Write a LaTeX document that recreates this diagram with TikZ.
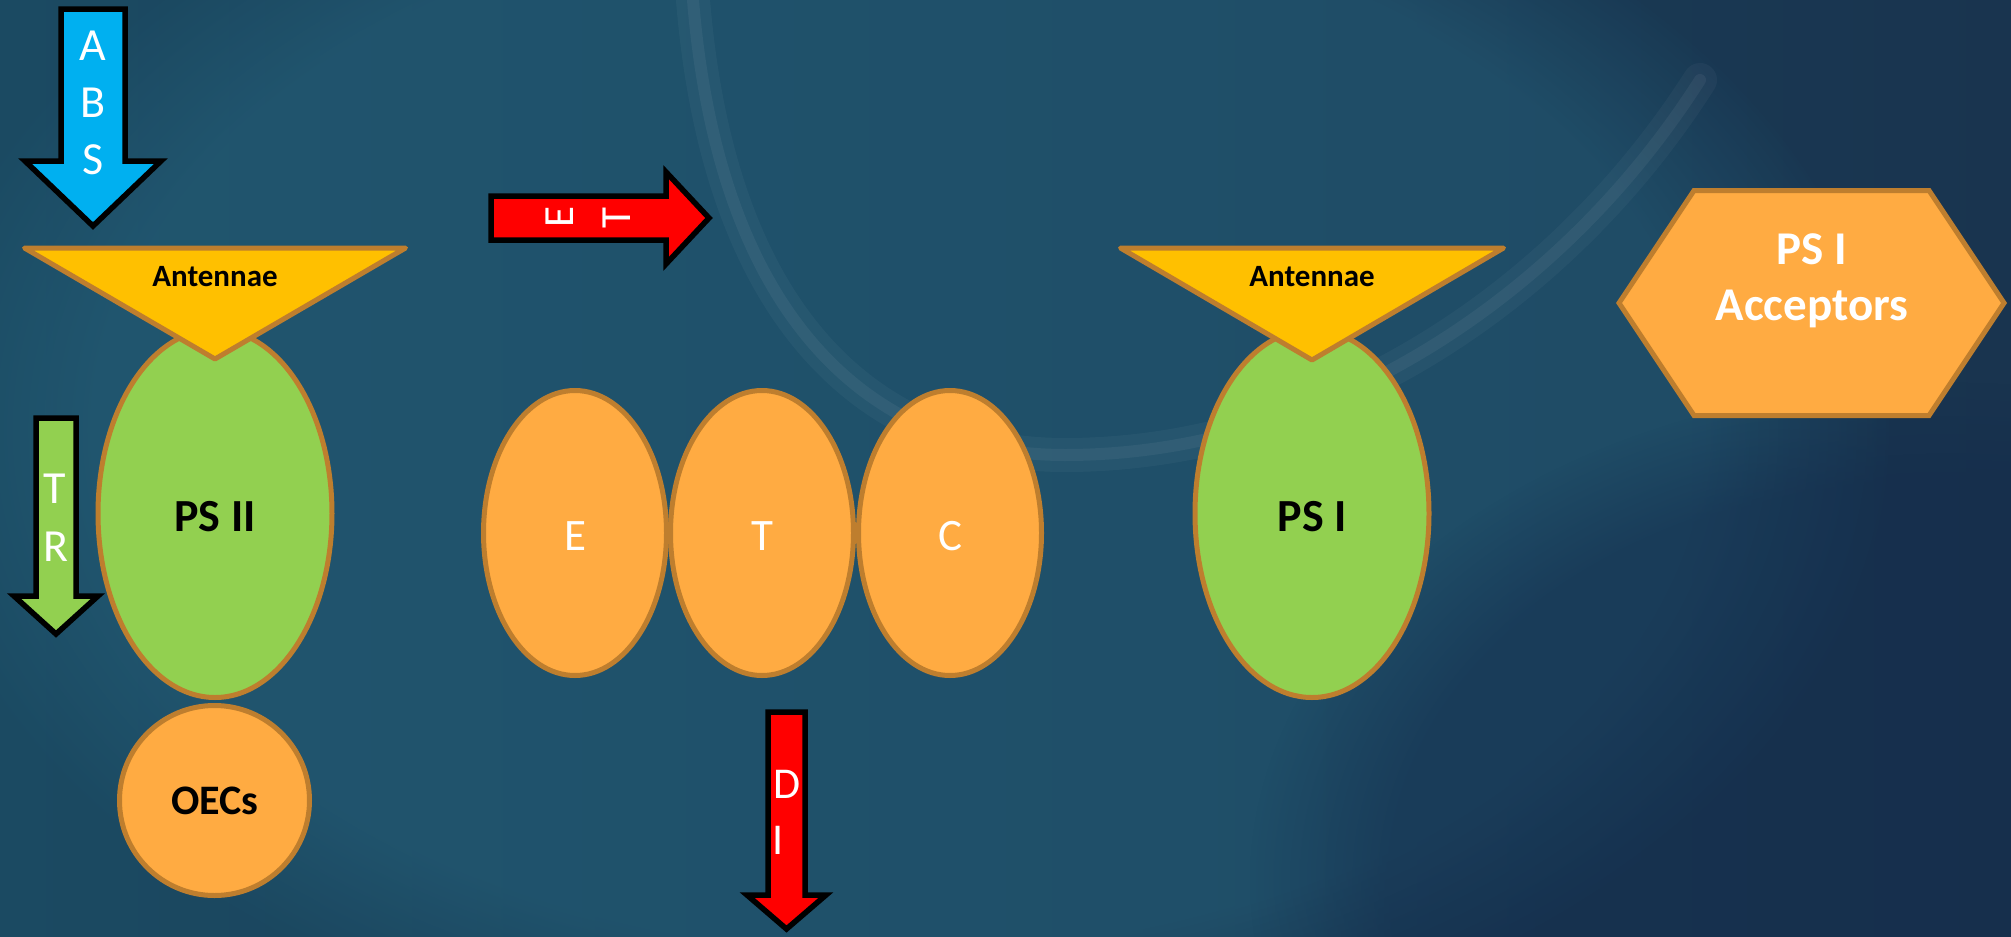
\documentclass[tikz,border=0pt]{standalone}
\usepackage{fontspec}
\setmainfont{Carlito}
\usetikzlibrary{shapes.geometric,fadings}
\definecolor{bgL}{HTML}{1B4A62}
\definecolor{bgM}{HTML}{1F566F}
\definecolor{bgR}{HTML}{19344F}
\definecolor{glowc}{HTML}{27657F}
\definecolor{darkc}{HTML}{13294A}
\definecolor{absblue}{HTML}{00B0F0}
\definecolor{antY}{HTML}{FFC000}
\definecolor{brownLine}{HTML}{BE7E2E}
\definecolor{grn}{HTML}{92D050}
\definecolor{org}{HTML}{FFAB42}
\definecolor{redA}{HTML}{FF0000}
\begin{document}
\begin{tikzpicture}[x=1pt,y=-1pt,
  outl/.style={draw=brownLine, line width=5pt, line join=round},
  blockarr/.style={draw=black, line width=5.5pt, line join=miter, miter limit=10},
  wletter/.style={text=white, inner sep=0pt, text depth=0pt, font=\fontsize{46}{46}\selectfont},
  blabel/.style={text=black, inner sep=0pt, text depth=0pt, font=\bfseries\fontsize{46}{46}\selectfont},
  oval/.style={outl, ellipse, inner sep=0pt, outer sep=0pt},
  glowarc/.style={white, line cap=round}]
% background
\useasboundingbox (0,0) rectangle (2011,937);
\shade[left color=bgL, middle color=bgM, right color=bgR] (0,0) rectangle (2011,937);
\fill[glowc, opacity=0.45, path fading=circle with fuzzy edge 20 percent] (900,430) ellipse (1000 and 650);
\fill[darkc, opacity=0.45, path fading=circle with fuzzy edge 20 percent] (1950,880) ellipse (700 and 500);
\draw[glowarc, opacity=0.035, line width=34pt] (693,0) .. controls (720,330) and (880,455) .. (1065,455) .. controls (1320,455) and (1560,300) .. (1700,80);
\draw[glowarc, opacity=0.05, line width=12pt] (693,0) .. controls (720,330) and (880,455) .. (1065,455) .. controls (1320,455) and (1560,300) .. (1700,80);

% ABS arrow
\path[blockarr, fill=absblue] (61,9) -- (125,9) -- (125,161) -- (161,161) -- (93,226) -- (25,161) -- (61,161) -- cycle;
\node[wletter] (absA) at (93,46) {A};
\node[wletter] (absB) at (93,103) {B};
\node[wletter] (absS) at (93,160) {S};

% PS II and antennae
\node[oval, fill=grn, minimum width=234pt, minimum height=368pt] (ps2) at (215,513.5) {};
\node[blabel] (ps2t) at (215,516) {PS II};
\path[outl, fill=antY] (24.5,248) -- (405.5,248) -- (215,359) -- cycle;
\node[blabel, font=\bfseries\fontsize{31}{31}\selectfont] (ant1) at (215,276) {Antennae};
\node[outl, circle, fill=org, inner sep=0pt, minimum size=190pt] (oec) at (214.5,800.5) {};
\node[blabel, font=\bfseries\fontsize{42}{42}\selectfont] (oect) at (215,801) {OECs};

% TR arrow
\path[blockarr, fill=grn] (36,418) -- (76,418) -- (76,596) -- (98,596) -- (56,634) -- (14,596) -- (36,596) -- cycle;
\node[wletter] (trT) at (55,489) {T};
\node[wletter] (trR) at (56,547) {R};

% ET arrow
\path[blockarr, fill=redA] (491,196) -- (666,196) -- (666,172) -- (709,218) -- (666,264) -- (666,240) -- (491,240) -- cycle;
\node[wletter, font=\fontsize{43}{43}\selectfont, rotate=90] (etE) at (560,217) {E};
\node[wletter, font=\fontsize{43}{43}\selectfont, rotate=90] (etT) at (617,218) {T};

% E T C
\node[oval, fill=org, minimum width=183pt, minimum height=285pt] (ovE) at (575,533) {};
\node[oval, fill=org, minimum width=183pt, minimum height=285pt] (ovT) at (762,533) {};
\node[oval, fill=org, minimum width=183pt, minimum height=285pt] (ovC) at (950,533) {};
\node[wletter, font=\fontsize{45}{45}\selectfont] (lE) at (575,536) {E};
\node[wletter, font=\fontsize{45}{45}\selectfont] (lT) at (762,536) {T};
\node[wletter, font=\fontsize{45}{45}\selectfont] (lC) at (950,536) {C};

% DI arrow
\path[blockarr, fill=redA] (768,712) -- (805,712) -- (805,895) -- (826,895) -- (786.5,929) -- (747,895) -- (768,895) -- cycle;
\node[wletter, font=\fontsize{44}{44}\selectfont] (diD) at (787,784) {D};
\node[wletter, font=\fontsize{44}{44}\selectfont] (diI) at (778,840) {I};

% PS I and antennae
\node[oval, fill=grn, minimum width=234pt, minimum height=368pt] (ps1) at (1312,513.5) {};
\node[blabel] (ps1t) at (1312,516) {PS I};
\path[outl, fill=antY] (1120.5,248) -- (1503.5,248) -- (1312,360) -- cycle;
\node[blabel, font=\bfseries\fontsize{31}{31}\selectfont] (ant2) at (1312,276) {Antennae};

% PS I Acceptors hexagon
\path[draw=brownLine, line width=5pt, line join=miter, fill=org] (1694,190.5) -- (1929,190.5) -- (2004,303) -- (1929,415.5) -- (1694,415.5) -- (1619,303) -- cycle;
\node[wletter, font=\bfseries\fontsize{47}{47}\selectfont] (acc1) at (1812,249) {PS I};
\node[wletter, font=\bfseries\fontsize{47}{47}\selectfont, text height=30pt] (acc2) at (1812,305.5) {Acceptors};
\end{tikzpicture}
\end{document}
